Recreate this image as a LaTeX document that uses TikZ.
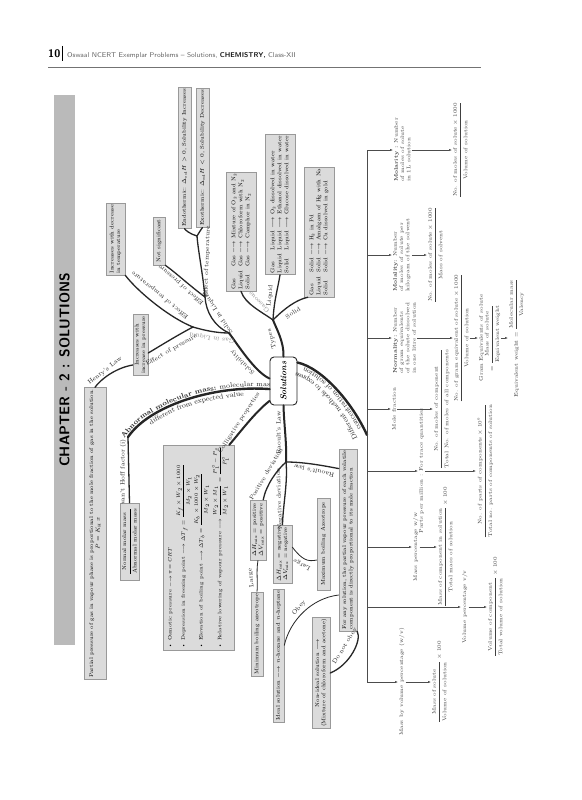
\documentclass[tikz,border=0pt]{standalone}
\usepackage{fix-cm}
\usepackage{amsmath}
\usepackage{graphicx}
\usetikzlibrary{arrows.meta,decorations.text}
\newcommand{\bxfont}{\fontsize{5.5}{6.4}\selectfont}
\newcommand{\lbfont}{\fontsize{6.2}{7}\selectfont}
\newcommand{\cnfont}{\fontsize{5.3}{6.3}\selectfont}
\newcommand{\pathfont}{\fontsize{7}{8}\selectfont\color{black!85}}
\renewcommand{\arraystretch}{1.1}

\begin{document}
\begin{tikzpicture}[x=1pt, y=-1pt,
    box/.style={draw=black!40, fill=black!14, line width=0.5pt, rotate=90, inner sep=1.5pt, align=center, font=\bxfont},
    lbl/.style={font=\lbfont, inner sep=0pt, text=black!85},
    thickbr/.style={line width=2pt, draw=black!85, line cap=round},
    midbr/.style={line width=1.3pt, draw=black!85, line cap=round},
    thinbr/.style={line width=0.8pt, draw=black!85},
    conc/.style={font=\cnfont, text=black!75, rotate=90, align=left, inner sep=1pt},
    cline/.style={draw=black!70, line width=0.5pt},
    carrow/.style={cline, -{Latex[length=3pt,width=2.2pt]}}]

\fill[white] (0,0) rectangle (581,800);
\useasboundingbox (0,0) rectangle (581,800);

% running head
\node[anchor=base west, inner sep=0, font=\fontsize{11}{11}\selectfont\sffamily\bfseries] (pageno) at (48,57) {10};
\draw[line width=0.9pt] (62.5,46) -- (62.5,61);
\node[anchor=base west, inner sep=0, font=\fontsize{7}{7}\selectfont\sffamily, text=black!60] (runhead) at (67,57)
    {Oswaal NCERT Exemplar Problems -- Solutions, {\color{black!90}\bfseries CHEMISTRY,} Class-XII};
\draw[black!55, line width=0.8pt] (48,67) -- (481,67);

% chapter bar
\node[fill=black!27, rotate=90, minimum width=550pt, minimum height=21pt, inner sep=0,
      font=\fontsize{14}{14}\selectfont\sffamily\bfseries] (chapter) at (64.5,370) {CHAPTER - 2 : SOLUTIONS};

% centre
\node[draw=black!85, line width=0.9pt, fill=white, rounded corners=4pt, minimum width=27pt, minimum height=48pt,
      inner sep=0, font=\fontsize{8.5}{8.5}\selectfont\bfseries\itshape] (sol) at (283.5,381) {\rotatebox{90}{Solutions}};

% solubility boxes
\node[box, minimum width=277pt, minimum height=22pt] (henrybox) at (95,533.5)
    {Partial pressure of gas in vapour phase is proportional to the mole fraction of gas in the solution.\\ $P = K_{\mathrm H}\,x$};
\node[box, minimum width=56pt, minimum height=15pt] (incpres) at (140.5,345) {Increases with\\ increase in pressure};
\node[box, minimum width=72pt, minimum height=19pt, align=left] (inctemp) at (115.5,239) {Increases with decrease\\ in temperature};
\node[box, minimum width=48pt, minimum height=12pt] (notsig) at (159,241) {Not significant};
\node[box, minimum width=130pt, minimum height=13pt] (endo) at (184.5,158) {Endothermic: $\Delta_{\mathrm{sol}}H > 0$, Solubility Increases};
\node[box, minimum width=130pt, minimum height=13pt] (exo) at (202.5,158) {Exothermic: $\Delta_{\mathrm{sol}}H < 0$, Solubility Decreases};

% types boxes
\node[box, minimum width=119pt, minimum height=30pt] (gasbox) at (241,231.5)
    {\begin{tabular}{@{}l@{\hspace{4pt}}l@{}}Gas & Gas $\longrightarrow$ Mixture of O$_2$ and N$_2$\\ Liquid & Gas $\longrightarrow$ Chloroform with N$_2$\\ Solid & Gas $\longrightarrow$ Camphor in N$_2$\end{tabular}};
\node[box, minimum width=137pt, minimum height=30pt] (liqbox) at (280,204.5)
    {\begin{tabular}{@{}l@{\hspace{4pt}}l@{}}Gas & Liquid $\longrightarrow$ O$_2$ dissolved in water\\ Liquid & Liquid $\longrightarrow$ Ethanol dissolved in water\\ Solid & Liquid $\longrightarrow$ Glucose dissolved in water\end{tabular}};
\node[box, minimum width=130pt, minimum height=30pt] (solidbox) at (319,232)
    {\begin{tabular}{@{}l@{\hspace{4pt}}l@{}}Gas & Solid $\longrightarrow$ H$_2$ in Pd\\ Liquid & Solid $\longrightarrow$ Amalgam of Hg with Na\\ Solid & Solid $\longrightarrow$ Cu dissolved in gold\end{tabular}};

% colligative and abnormal mass boxes
\node[box, minimum width=77pt, minimum height=19pt] (vhbox) at (129.5,541.5)
    {$\dfrac{\text{Normal molar mass}}{\text{Abnormal molar mass}}$};
\node[box, minimum width=181pt, minimum height=71pt, align=left, font=\fontsize{5}{6}\selectfont] (collbox) at (198.5,547.5)
    {\medmuskip=2mu\thickmuskip=3mu
     \textbullet\ Osmotic pressure $\longrightarrow \pi = CRT$\\[3pt]
     \textbullet\ Depression in freezing point $\longrightarrow \Delta T_f = \dfrac{K_f\times W_2\times 1000}{M_2\times W_1}$\\[2pt]
     \textbullet\ Elevation of boiling point $\longrightarrow \Delta T_b = \dfrac{K_b\times 1000\times W_2}{M_2\times W_1}$\\[2pt]
     \textbullet\ Relative lowering of vapour pressure $\longrightarrow \dfrac{W_2\times M_1}{M_2\times W_1} = \dfrac{P^\circ_1 - P_s}{P^\circ_1}$};

% raoult boxes
\node[box, minimum width=60pt, minimum height=16pt] (posbox) at (258,530) {$\Delta H_{\mathrm{mix}}$ = positive\\ $\Delta V_{\mathrm{mix}}$ = positive};
\node[box, minimum width=82pt, minimum height=12pt] (minbox) at (257,634) {Minimum boiling azeotrope};
\node[box, minimum width=58pt, minimum height=19pt] (negbox) at (282.5,554) {$\Delta H_{\mathrm{mix}}$ = negative\\ $\Delta V_{\mathrm{mix}}$ = negative};
\node[box, minimum width=92pt, minimum height=13pt] (maxbox) at (323.5,544) {Maximum boiling Azeotrope};
\node[box, minimum width=174pt, minimum height=18pt, align=left] (raoultbox) at (348,540)
    {For any solution, the partial vapour pressure of each volatile\\ component is directly proportional to its mole fraction};
\node[box, minimum width=131pt, minimum height=11pt] (idealbox) at (278.5,655.5) {Ideal solution $\longrightarrow$ $n$-hexane and $n$-heptane};
\node[box, minimum width=108pt, minimum height=18pt] (nonidealbox) at (321,673) {Non-ideal solution $\longrightarrow$\\ (Mixture of chloroform and acetone)};

% solubility branches
\coordinate (jSolub) at (229,333);
\coordinate (jGas) at (193,327);
\coordinate (jSolid) at (205,297);
\coordinate (jTemp) at (197,236);
\draw[thickbr] (sol.170) .. controls (255,372) and (238,345) .. (jSolub);
\draw[midbr] (jSolub) .. controls (216,333) and (203,330) .. (jGas);
\draw[midbr] (jSolub) .. controls (214,326) and (206,312) .. (jSolid);
\draw[midbr] (jGas) .. controls (170,318) and (138,292) .. (inctemp.south west);
\draw[midbr] (jGas) .. controls (176,336) and (160,346) .. ([yshift=-8pt]incpres.south);
\draw[midbr] ([yshift=-20pt]incpres.north) .. controls (115,368) and (100,380) .. (henrybox.east);
\draw[midbr] (jSolid) .. controls (190,286) and (175,272) .. (notsig.south west);
\draw[midbr] (jSolid) .. controls (203,275) and (198,250) .. (jTemp);
\draw[midbr] (jTemp) .. controls (190,234) and (185,230) .. (endo.west);
\draw[midbr] (jTemp) .. controls (200,231) and (202,228) .. (exo.west);

% types branches
\coordinate (jTypes) at (273,320);
\draw[thickbr] (sol.north) .. controls (284,342) and (277,330) .. (jTypes);
\draw[midbr] (jTypes) .. controls (262,312) and (245,304) .. (gasbox.west);
\draw[midbr] (jTypes) .. controls (274,300) and (278,288) .. (liqbox.west);
\draw[midbr] (jTypes) .. controls (285,308) and (296,300) .. ([xshift=4pt]solidbox.north west);

% abnormal molecular mass
\coordinate (jHoff) at (128,437);
\draw[line width=2.4pt, black!85, line cap=round] (sol.210) .. controls (215,385) and (150,405) .. (jHoff);
\draw[midbr] (jHoff) -- (vhbox.east);
\path[decorate, decoration={text along path, text align=center, raise=2pt,
      text={|\pathfont\bfseries|Abnormal molecular mass: |\pathfont\mdseries|molecular mass}}]
    (jHoff) .. controls (150,405) and (215,385) .. (sol.210);
\path[decorate, decoration={text along path, text align=center, raise=-7.5pt,
      text={|\pathfont|different from expected value}}]
    (jHoff) .. controls (150,405) and (215,385) .. (sol.210);

% colligative
\draw[thickbr] (sol.235) .. controls (255,412) and (238,435) .. ([xshift=-5pt]collbox.south east);

% raoult's law
\coordinate (jRaoult) at (286,462);
\draw[thickbr] (sol.south) .. controls (284,425) and (287,445) .. (jRaoult);
\draw[midbr] (jRaoult) .. controls (277,470) and (266,485) .. ([xshift=-3pt]posbox.south east);
\draw[midbr] (jRaoult) .. controls (288,482) and (283,505) .. (negbox.east);
\draw[midbr] (jRaoult) .. controls (305,462) and (325,466) .. ([yshift=-20pt]raoultbox.north east);
\draw[thinbr] (posbox.west) .. controls (256,572) and (258,582) .. (minbox.east);
\draw[thinbr] ([yshift=7pt]negbox.south) .. controls (302,560) and (308,562) .. ([yshift=-16pt]maxbox.north);
\draw[thinbr] ([yshift=-55pt]raoultbox.north) .. controls (312,598) and (290,620) .. ([yshift=10pt]idealbox.south);
\draw[midbr] (raoultbox.south west) .. controls (362,640) and (350,665) .. (nonidealbox.south);

% labels
\node[lbl, rotate=135] (lSolub) at (242.5,362.5) {Solubility};
\node[lbl, rotate=106] (lTypes) at (272,339) {Types};
\node[lbl, rotate=134, text=black!45] (lGaseous) at (259,302.5) {Gaseous};
\node[lbl, rotate=84] (lLiquid) at (270,296) {Liquid};
\node[lbl, rotate=33] (lSolid) at (293,313) {Solid};
\node[lbl, rotate=172, text=black!45] (lGasLiq) at (212,338) {Gas in Liquid};
\node[lbl, rotate=123] (lSolLiq) at (218,313) {Solid in Liquid};
\node[lbl, rotate=141] (lTempG) at (160,295) {Effect of temperature};
\node[lbl, rotate=30] (lPresG) at (171.5,350) {Effect of pressure};
\node[lbl, rotate=139] (lPresS) at (181,285) {Effect of pressure};
\node[lbl, rotate=88] (lTempS) at (207,262) {Effect of temperature};
\node[lbl, rotate=38] (lHenry) at (105,371) {Henry's Law};
\node[lbl, rotate=90] (lHoff) at (123,472) {van't Hoff factor (i)};
\node[lbl, rotate=57] (lColl) at (239,423) {Colligative properties};
\node[lbl, rotate=90] (lRaoultL) at (278.5,433) {Raoult's Law};
\node[lbl, rotate=59] (lPos) at (266,474) {Positive deviation};
\node[lbl, rotate=92] (lNeg) at (279.5,499) {Negative deviation};
\node[lbl, rotate=167] (lRaoultl) at (314,471) {Raoult's law};
\node[lbl, rotate=97] (lLargeP) at (251,578) {Large};
\node[lbl, rotate=153] (lLargeN) at (302,565) {Large};
\node[lbl, rotate=50] (lObey) at (299,608) {Obey};
\node[lbl, rotate=58] (lNotObey) at (345,646) {Do not obey};

% concentration terms
\coordinate (tTop) at (367,150);
\coordinate (tBot) at (367,682);
\coordinate (tMid) at (367,435);
\draw[line width=2.4pt, black!85, line cap=round] (sol.53) .. controls (322,368) and (352,402) .. (tMid);
\path[decorate, decoration={text along path, text align=center, raise=2.5pt,
      text={|\pathfont|concentration of solution}}]
    (tMid) .. controls (352,402) and (322,368) .. (sol.53);
\path[decorate, decoration={text along path, text align=center, raise=10pt,
      text={|\pathfont|Different methods to express}}]
    (tMid) .. controls (352,402) and (322,368) .. (sol.53);
\draw[cline] (tTop) -- (tBot);

\node[conc, anchor=north] (molarity) at (393,150) {\textbf{Molarity :} Number\\ of moles of solute\\ in 1L solution};
\node[conc, anchor=north] (molarityf) at (452,150) {$\dfrac{\text{No. of moles of solute}\times 1000}{\text{Volume of solution}}$};
\node[conc, anchor=north] (molality) at (392,255) {\textbf{Molality:} Number\\ of moles of solute per\\ kilogram of the solvent};
\node[conc, anchor=north] (molalityf) at (427,255) {$\dfrac{\text{No. of moles of solute}\times 1000}{\text{Mass of solvent}}$};
\node[conc, anchor=north] (normality) at (392,338) {\textbf{Normality:} Number\\ of gram equivalents\\ of the solute dissolved\\ in one litre of solution};
\node[conc, anchor=north] (normalityf) at (453,338) {$\dfrac{\text{No. of gram equivalent of solute}\times 1000}{\text{Volume of solution}}$};
\node[conc, anchor=north, align=center] (gramEq) at (478,338) {Gram Equivalents of solute\\ $=\dfrac{\text{Mass of solute}}{\text{Equivalent weight}}$};
\node[conc, anchor=north] (eqWt) at (508,338) {Equivalent weight $=\dfrac{\text{Molecular mass}}{\text{Valency}}$};
\node[conc, anchor=north] (molefr) at (391,409) {Mole fraction};
\node[conc, anchor=north] (molefrf) at (433,409) {$\dfrac{\text{No. of moles of component}}{\text{Total No. of moles of all components}}$};
\node[conc, anchor=north] (ppm) at (418,471) {Parts per million : For trace quantities};
\node[conc, anchor=north] (ppmf) at (476,471) {$\dfrac{\text{No. of parts of components}\times 10^6}{\text{Total no. parts of components of solution}}$};
\node[conc, anchor=north] (masspc) at (412,547) {Mass percentage w/w};
\node[conc, anchor=north] (masspcf) at (437,547) {$\dfrac{\text{Mass of component in solution}}{\text{Total mass of solution}}\times 100$};
\node[conc, anchor=north] (volpc) at (461,607) {Volume percentage v/v};
\node[conc, anchor=north] (volpcf) at (487,607) {$\dfrac{\text{Volume of component}}{\text{Total volume of solution}}\times 100$};
\node[conc, anchor=north] (wvpc) at (398,682) {Mass by volume percentage (w/v)};
\node[conc, anchor=north] (wvpcf) at (431,682) {$\dfrac{\text{Mass of solute}}{\text{Volume of solution}}\times 100$};

% arrows off the trunk
\draw[carrow] (367,150) -- (molarity.north);
\draw[carrow] (molarity.south) -- (molarityf.north);
\draw[carrow] (367,255) -- (molality.north);
\draw[carrow] (molality.south) -- (molalityf.north);
\draw[carrow] (367,338) -- (normality.north);
\draw[carrow] (normality.south) -- (normalityf.north);
\draw[carrow] (normalityf.south) -- (gramEq.north);
\draw[carrow] (gramEq.south) -- (eqWt.north);
\draw[carrow] (367,409) -- (molefr.north);
\draw[carrow] (molefr.south) -- (molefrf.north);
\draw[carrow] (367,471) -- (ppm.north);
\draw[carrow] (ppm.south) -- (ppmf.north);
\draw[carrow] (367,547) -- (masspc.north);
\draw[carrow] (masspc.south) -- (masspcf.north);
\draw[carrow] (367,607) -- (volpc.north);
\draw[carrow] (volpc.south) -- (volpcf.north);
\draw[carrow] (367,682) -- (wvpc.north);
\draw[carrow] (wvpc.south) -- (wvpcf.north);
\end{tikzpicture}
\end{document}
